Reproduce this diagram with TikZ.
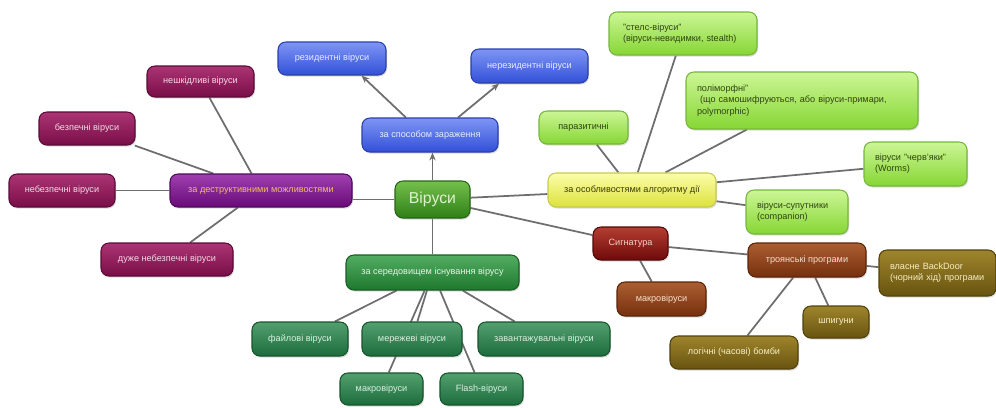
\documentclass[tikz,border=0pt]{standalone}
\usepackage{fontspec}
\setmainfont{Liberation Sans}
\usetikzlibrary{shadows,arrows.meta}
\pgfdeclarelayer{bg}
\pgfsetlayers{bg,main}

% palette
\definecolor{edgegray}{HTML}{6E6E6E}
\definecolor{virT}{HTML}{74C04C}\definecolor{virB}{HTML}{2F7F18}\definecolor{virD}{HTML}{286416}\definecolor{virX}{HTML}{DDF2CC}
\definecolor{bluT}{HTML}{7E95F5}\definecolor{bluB}{HTML}{3250D8}\definecolor{bluD}{HTML}{2A3FA8}\definecolor{bluX}{HTML}{E8ECFF}
\definecolor{purT}{HTML}{A040B0}\definecolor{purB}{HTML}{680A78}\definecolor{purD}{HTML}{520860}\definecolor{purX}{HTML}{F2C060}
\definecolor{magT}{HTML}{AC3474}\definecolor{magB}{HTML}{780E48}\definecolor{magD}{HTML}{5C0A38}\definecolor{magX}{HTML}{F5D8E6}
\definecolor{envT}{HTML}{52AC62}\definecolor{envB}{HTML}{1E782E}\definecolor{envD}{HTML}{195C24}\definecolor{envX}{HTML}{E2F6E2}
\definecolor{grnT}{HTML}{52A06E}\definecolor{grnB}{HTML}{1D6C3C}\definecolor{grnD}{HTML}{18542E}\definecolor{grnX}{HTML}{DAF0E2}
\definecolor{yelT}{HTML}{FCFEA8}\definecolor{yelB}{HTML}{DCE23C}\definecolor{yelD}{HTML}{C6CA50}\definecolor{yelX}{HTML}{3C3C00}
\definecolor{limT}{HTML}{CCF696}\definecolor{limB}{HTML}{86D634}\definecolor{limD}{HTML}{76B63E}\definecolor{limX}{HTML}{304410}
\definecolor{sigT}{HTML}{B43E32}\definecolor{sigB}{HTML}{6E0A0A}\definecolor{sigD}{HTML}{560808}\definecolor{sigX}{HTML}{F8CEC6}
\definecolor{brnT}{HTML}{AC5E32}\definecolor{brnB}{HTML}{76300E}\definecolor{brnD}{HTML}{5A2408}\definecolor{brnX}{HTML}{F6E0CC}
\definecolor{olvT}{HTML}{9E842C}\definecolor{olvB}{HTML}{685410}\definecolor{olvD}{HTML}{52420C}\definecolor{olvX}{HTML}{F6EEC4}

\tikzset{
  box/.style={rounded corners=4.5pt, draw, line width=0.6pt, align=center,
    font=\fontsize{5.2}{6.4}\selectfont, inner xsep=0.22cm, inner ysep=1pt,
    drop shadow={opacity=0.28, shadow xshift=0.6pt, shadow yshift=-0.9pt}},
  sz/.style 2 args={minimum width=#1*0.02cm, minimum height=#2*0.02cm},
  ml/.style={align=left, text width=#1*0.02cm},
  paint/.style={top color=#1T, bottom color=#1B, draw=#1D, text=#1X},
  link/.style={draw=edgegray, line width=1pt},
  arr/.style={link, -{Stealth[length=4.5pt,width=3.6pt]}},
}

\begin{document}
\begin{tikzpicture}[x=0.02cm,y=-0.02cm]
  \useasboundingbox (0,0) rectangle (996,407);

  % centre
  \node[box, paint=vir, sz={75}{37}, font=\fontsize{9}{10}\selectfont] (vir) at (432.5,199.5) {Віруси};

  % by infection method
  \node[box, paint=blu, sz={136}{34}] (spos)  at (430,135)   {за способом зараження};
  \node[box, paint=blu, sz={108}{33}] (rez)   at (332,58.5)  {резидентні віруси};
  \node[box, paint=blu, sz={117}{34}] (nerez) at (529.5,66)  {нерезидентні віруси};

  % by destructive capabilities
  \node[box, paint=pur, sz={182}{33}] (destr)  at (261,190.5) {за деструктивними можливостями};
  \node[box, paint=mag, sz={107}{31}] (nesh)   at (200.5,81.5) {нешкідливі віруси};
  \node[box, paint=mag, sz={96}{33}]  (bezp)   at (87,128.5)  {безпечні віруси};
  \node[box, paint=mag, sz={106}{33}] (nebezp) at (62,190.5)  {небезпечні віруси};
  \node[box, paint=mag, sz={132}{33}] (duzhe)  at (167,259.5) {дуже небезпечні віруси};

  % by environment
  \node[box, paint=env, sz={173}{35}] (ser)    at (432.5,272.5) {за середовищем існування вірусу};
  \node[box, paint=grn, sz={96}{34}]  (fail)   at (300,339)   {файлові віруси};
  \node[box, paint=grn, sz={100}{34}] (merezh) at (412,339)   {мережеві віруси};
  \node[box, paint=grn, sz={132}{34}] (zavant) at (544,339)   {завантажувальні віруси};
  \node[box, paint=grn, sz={83}{32}]  (makro)  at (381.5,389) {макровіруси};
  \node[box, paint=grn, sz={83}{32}]  (flash)  at (481.5,389) {Flash-віруси};

  % by algorithm features
  \node[box, paint=yel, sz={168}{34}] (alg)   at (632,190)    {за особливостями алгоритму дії};
  \node[box, paint=lim, sz={89}{33}]  (paraz) at (583.5,127.5) {паразитичні};
  \node[box, paint=lim, sz={148}{43}, ml={120}] (stels) at (683,33.5)
    {"стелс-віруси"\\(віруси-невидимки, stealth)};
  \node[box, paint=lim, sz={232}{57}, ml={210}] (polim) at (802,100.5)
    {поліморфні"\\\ (що самошифруються, або віруси-примари,\\polymorphic)};
  \node[box, paint=lim, sz={103}{44}, ml={81}]  (cherv) at (915.5,164)
    {віруси "черв'яки"\\(Worms)};
  \node[box, paint=lim, sz={102}{44}, ml={80}]  (suput) at (797,212)
    {віруси-супутники\\(companion)};

  % signature branch
  \node[box, paint=sig, sz={75}{33}]  (sig)    at (630.5,243.5) {Сигнатура};
  \node[box, paint=brn, sz={89}{34}]  (makro2) at (661.5,299)   {макровіруси};
  \node[box, paint=brn, sz={118}{34}] (troyan) at (807,260)     {троянські програми};
  \node[box, paint=olv, sz={117}{46}, ml={95}] (backdoor) at (937.5,273)
    {власне BackDoor\\(чорний хід) програми};
  \node[box, paint=olv, sz={66}{32}]  (shpyg)  at (836,322)     {шпигуни};
  \node[box, paint=olv, sz={128}{33}] (bomby)  at (734,352.5)   {логічні (часові) бомби};

  \begin{pgfonlayer}{bg}
    % main branches
    \draw[arr]  (vir.north) -- (vir.north |- spos.south);
    \draw[link] (vir.south) -- (vir.south |- ser.north);
    \draw[link] (vir.west) -- (destr.east |- vir.west);
    \draw[link] (vir) -- (alg);
    \draw[link] (vir) -- (sig);

    % infection method
    \draw[arr] (spos.144) -- (rez.-30);
    \draw[arr] (spos.32) -- (nerez.-150);

    % destructive capabilities
    \foreach \t in {nesh,bezp,nebezp,duzhe} \draw[link] (destr) -- (\t);

    % environment
    \foreach \t in {fail,merezh,makro,flash,zavant} \draw[link] (ser) -- (\t);

    % algorithm features
    \foreach \t in {paraz,stels,polim,cherv,suput} \draw[link] (alg) -- (\t);

    % signature and trojans
    \draw[link] (sig) -- (makro2);
    \draw[link] (sig) -- (troyan);
    \foreach \t in {backdoor,shpyg,bomby} \draw[link] (troyan) -- (\t);
  \end{pgfonlayer}
\end{tikzpicture}
\end{document}
